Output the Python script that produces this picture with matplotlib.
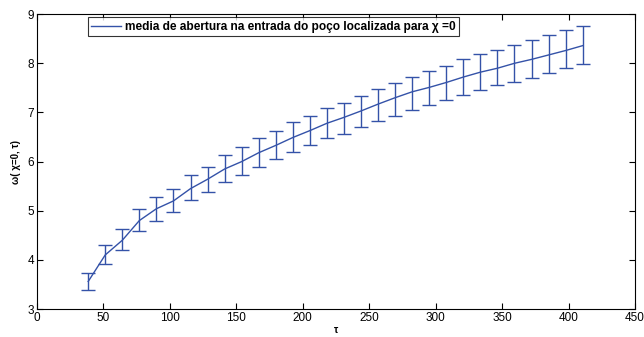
import matplotlib
matplotlib.use('Agg')
import matplotlib.pyplot as plt
from matplotlib.lines import Line2D

# tau positions of the samples
tau = [38.5, 51.3, 64.2, 77.0, 89.8, 102.7, 115.5, 128.3, 141.2, 154.0,
       166.8, 179.7, 192.5, 205.3, 218.2, 231.0, 243.8, 256.7, 269.5, 282.3,
       295.2, 308.0, 320.8, 333.7, 346.5, 359.3, 372.2, 385.0, 397.8, 410.7]

# mean aperture
omega = [3.56, 4.10, 4.40, 4.80, 5.04, 5.20, 5.45, 5.64, 5.85, 6.00,
         6.18, 6.33, 6.49, 6.63, 6.78, 6.90, 7.03, 7.17, 7.30, 7.42,
         7.51, 7.61, 7.72, 7.82, 7.90, 8.00, 8.08, 8.17, 8.26, 8.36]

# lower / upper ends of the error bars
lower = [3.39, 3.91, 4.21, 4.58, 4.80, 4.97, 5.21, 5.38, 5.58, 5.72,
         5.90, 6.05, 6.20, 6.33, 6.48, 6.57, 6.70, 6.83, 6.92, 7.04,
         7.15, 7.25, 7.35, 7.45, 7.55, 7.62, 7.70, 7.80, 7.90, 7.98]
upper = [3.73, 4.30, 4.62, 5.03, 5.28, 5.45, 5.72, 5.90, 6.13, 6.30,
         6.48, 6.62, 6.80, 6.93, 7.10, 7.20, 7.33, 7.48, 7.60, 7.72,
         7.85, 7.95, 8.08, 8.18, 8.28, 8.38, 8.48, 8.57, 8.67, 8.76]

label = 'media de abertura na entrada do poço localizada para χ =0'

plt.rcParams['font.family'] = ['Liberation Sans', 'DejaVu Sans']

fig = plt.figure(figsize=(6.44, 3.37), dpi=100)
ax = fig.add_axes([0.0575, 0.083, 0.9285, 0.875])

err_lo = [m - l for m, l in zip(omega, lower)]
err_hi = [u - m for m, u in zip(omega, upper)]
color = '#3452a8'

ax.errorbar(tau, omega, yerr=[err_lo, err_hi], color=color, ecolor=color,
            elinewidth=1.0, capsize=5, capthick=1.0, linewidth=1.0)

ax.set_xlim(0, 450)
ax.set_ylim(3, 9)
ax.set_xticks(range(0, 451, 50))
ax.set_yticks(range(3, 10))
ax.tick_params(direction='in', top=True, right=True, labelsize=8.5, length=4, pad=2)
for s in ax.spines.values():
    s.set_linewidth(0.8)

ax.set_xlabel('τ', fontsize=7, fontweight='bold', labelpad=1)
ax.set_ylabel('ω( χ=0, τ)', fontsize=7, fontweight='bold', labelpad=5)

handle = Line2D([], [], color=color, linewidth=1.0)
leg = ax.legend(handles=[handle], labels=[label], loc='upper left',
                bbox_to_anchor=(0.08, 1.0), prop={'weight': 'bold', 'size': 8.6},
                frameon=True, fancybox=False, handlelength=2.5, handletextpad=0.3,
                borderpad=0.3, borderaxespad=0.25)
leg.get_frame().set_edgecolor('black')
leg.get_frame().set_linewidth(0.8)

fig.savefig('out.png', dpi=100)
